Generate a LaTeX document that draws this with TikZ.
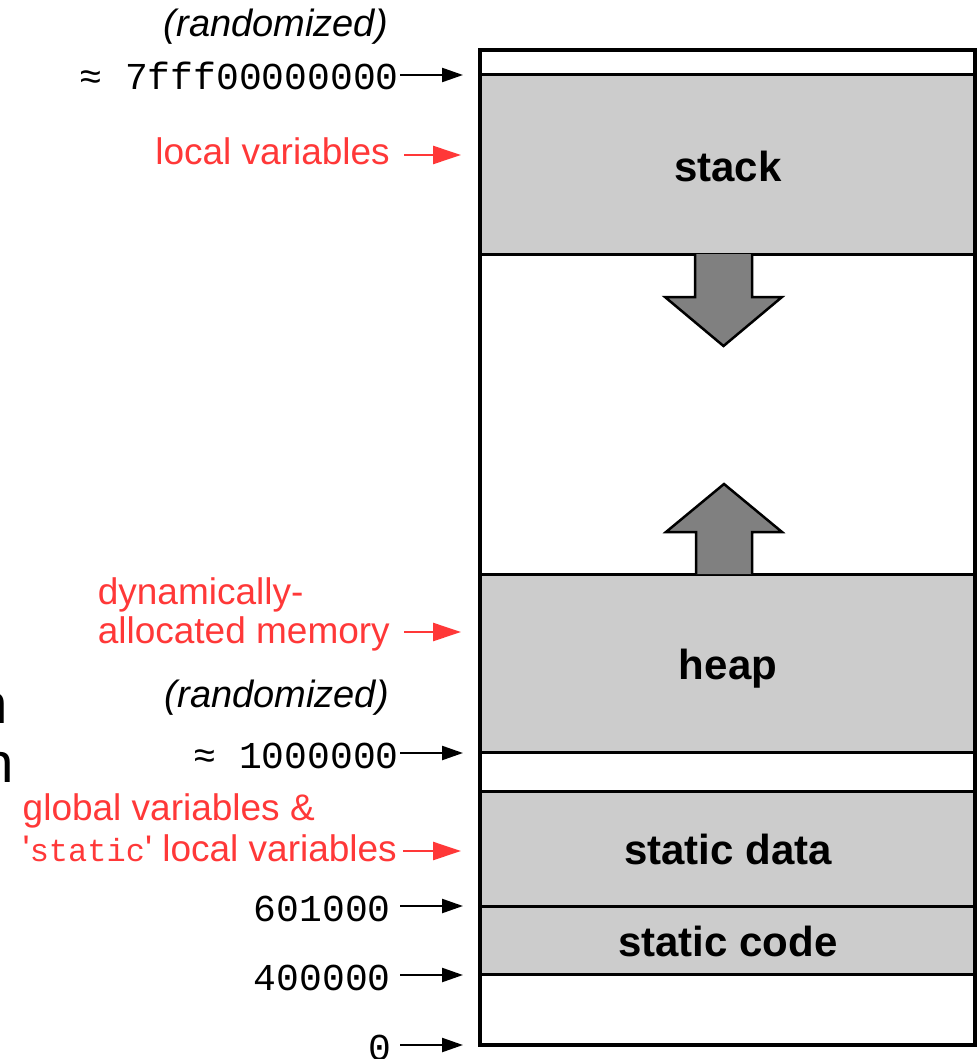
\documentclass[tikz,border=0pt]{standalone}
\usepackage{fontspec}
\setmainfont{Liberation Sans}
\setmonofont{Liberation Mono}
\newfontfamily\straightquotes{Liberation Sans}
\usetikzlibrary{arrows.meta}
\definecolor{labelred}{HTML}{FF3838}
\definecolor{segfill}{HTML}{CCCCCC}
\definecolor{growfill}{HTML}{808080}
\newcommand{\sq}{{\straightquotes\char39}}
\tikzset{
  outerbox/.style={draw=black, line width=4.5pt},
  segline/.style={draw=black, line width=3pt},
  seglabel/.style={font=\fontsize{42}{50}\selectfont\bfseries, inner sep=0pt, anchor=base},
  addr/.style={font=\fontsize{38}{46}\selectfont\ttfamily, inner sep=0pt, anchor=base east},
  randnote/.style={font=\fontsize{38}{46}\selectfont\itshape, inner sep=0pt, anchor=base east},
  redlabel/.style={font=\fontsize{37}{44}\selectfont, text=labelred, inner sep=0pt},
  addrarrow/.style={draw=black, line width=2.3pt, -{Triangle[length=21pt,width=14pt]}},
  redarrow/.style={draw=labelred, line width=2.5pt, -{Triangle[length=28pt,width=18pt]}},
  growarrow/.style={draw=black, fill=growfill, line width=2.5pt, line join=miter},
  cutglyph/.style={font=\fontsize{56}{60}\selectfont\ttfamily, inner sep=0pt, anchor=base east},
}
\begin{document}
\begin{tikzpicture}[x=1pt, y=-1pt]
\useasboundingbox (0,0) rectangle (977,1059);

% memory segments
\fill[segfill] (480,75) rectangle (975,254);
\fill[segfill] (480,574) rectangle (975,752);
\fill[segfill] (480,791) rectangle (975,974);
\foreach \yy in {75,254,574,752,791,906,974}
  \draw[segline] (480,\yy) -- (975,\yy);
\draw[outerbox] (480,50) rectangle (975,1045);

% growth arrows
\draw[growarrow] (695,254) -- (695,297) -- (665,297) -- (723.5,346) -- (782,297) -- (752,297) -- (752,254);
\draw[growarrow] (696,574) -- (696,532) -- (666,532) -- (724,484) -- (782,532) -- (752,532) -- (752,574);

% segment names
\node[seglabel] (stack) at (728,182) {stack};
\node[seglabel] (heap) at (728,679) {heap};
\node[seglabel] (sdata) at (728,864) {static data};
\node[seglabel] (scode) at (728,956) {static code};

% arrow targets on the left edge
\coordinate (tTop) at (463,75);
\coordinate (tLocal) at (461,155);
\coordinate (tDyn) at (461,632);
\coordinate (tHeap) at (463,753);
\coordinate (tStatic) at (461,851);
\coordinate (tData) at (463,906);
\coordinate (tCode) at (463,975);
\coordinate (tZero) at (463,1045);

% addresses
\node[randnote] (rand1) at (388,37) {(randomized)};
\node[addr] (aTop) at (399,90) {≈ 7fff00000000};
\node[randnote] (rand2) at (389,707) {(randomized)};
\node[addr] (aHeap) at (399,768) {≈ 1000000};
\node[addr] (aData) at (391,921) {601000};
\node[addr] (aCode) at (391,990) {400000};
\node[addr] (aZero) at (391,1060) {0};

\draw[addrarrow] (aTop.east |- tTop) ++(1,0) -- (tTop);
\draw[addrarrow] (aHeap.east |- tHeap) ++(1,0) -- (tHeap);
\draw[addrarrow] (aData.east |- tData) ++(9,0) -- (tData);
\draw[addrarrow] (aCode.east |- tCode) ++(9,0) -- (tCode);
\draw[addrarrow] (aZero.east |- tZero) ++(9,0) -- (tZero);

% what lives where
\node[redlabel, anchor=base east] (lLocal) at (390,165) {local variables};
\node[redlabel, anchor=base east] (lDyn2) at (390,643) {allocated memory};
\node[redlabel, anchor=base west] (lDyn1) at (lDyn2.base west) [yshift=39pt] {dynamically-};
\node[redlabel, anchor=base east] (lStat2) at (397,861) {\sq{\fontsize{32}{38}\selectfont\ttfamily static}\sq{} local variables};
\node[redlabel, anchor=base west] (lStat1) at (lStat2.base west) [yshift=41pt] {global variables \&};

\draw[redarrow] (lLocal.east |- tLocal) ++(14,0) -- (tLocal);
\draw[redarrow] (lDyn2.east |- tDyn) ++(14,0) -- (tDyn);
\draw[redarrow] (lStat2.east |- tStatic) ++(6,0) -- (tStatic);

% clipped glyphs at the left edge
\node[cutglyph] (cut1) at (9,723) {n};
\node[cutglyph] (cut2) at (15,782) {n};
\end{tikzpicture}
\end{document}
